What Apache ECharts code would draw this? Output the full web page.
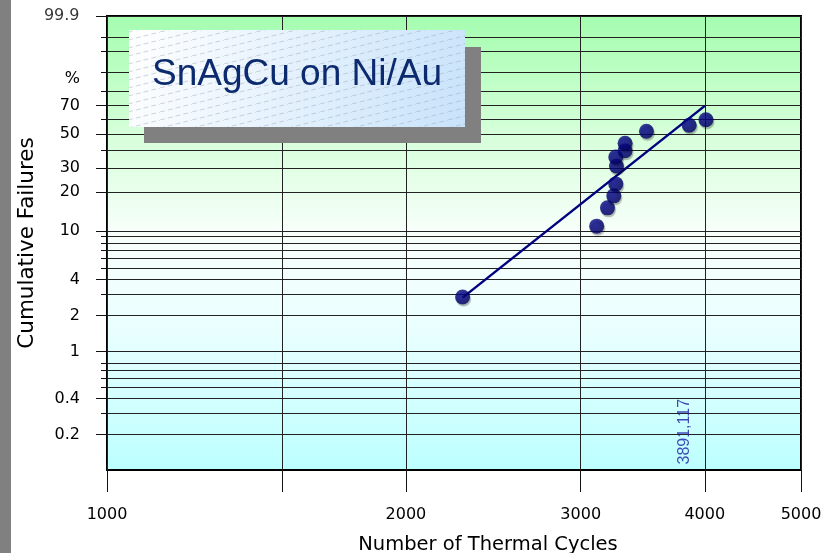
<!DOCTYPE html>
<html><head><meta charset="utf-8">
<script src="https://cdn.jsdelivr.net/npm/echarts@6/dist/echarts.min.js"></script>
<style>html,body{margin:0;padding:0;background:#fff}#c{width:821px;height:553px}</style>
</head><body><div id="c"></div>
<script>
// ---- data ----
const cycles  = [2281, 3113, 3192, 3239, 3254, 3259, 3254, 3325, 3325, 3494, 3858, 4011];
const failPct = [2.86, 10.9, 15.2, 18.8, 23.1, 31.1, 35.8, 39.4, 44.0, 51.9, 56.1, 60.0];
const fitCycles = [2281, 4000];
const fitPct = [2.83, 69.9];
const etaCycles = 3891;
const etaLabel = '3891,117';
const xTicks = [1000, 1500, 2000, 3000, 4000, 5000];
const xLabels = [1000, 2000, 3000, 4000, 5000];
const yGrid = [99.9, 99, 97, 90, 80, 70, 60, 50, 40, 30, 20, 10, 9, 8, 7, 6, 5, 4, 3, 2, 1, 0.8, 0.7, 0.6, 0.5, 0.4, 0.3, 0.2];
const yMajor = [99.9, 70, 50, 30, 20, 10, 4, 2, 1, 0.4, 0.2];
const yTopLabel = 99.9;
const yLabelVals = [90, 70, 50, 30, 20, 10, 4, 2, 1, 0.4, 0.2];
const yLabelText = ['%', '70', '50', '30', '20', '10', '4', '2', '1', '0.4', '0.2'];
const xMinCycles = 1000, xMaxCycles = 5000;
const yMinPct = 0.1, yMaxPct = 99.9;
const titleText = 'SnAgCu on Ni/Au';

// ---- scale transforms (Weibull probability paper) ----
const w = p => Math.log(-Math.log(1 - p / 100));
const lx = v => Math.log10(v);
const yTop = w(yMaxPct), yBot = w(yMinPct);
const yLabW = yLabelVals.map(w);

const FONT = "'DejaVu Sans', sans-serif";

// hatch pattern for title box
const pc = document.createElement('canvas'); pc.width = 32; pc.height = 8;
const g2 = pc.getContext('2d');
g2.strokeStyle = 'rgba(150,160,175,0.45)'; g2.lineWidth = 1; g2.setLineDash([5, 3]);
g2.beginPath(); g2.moveTo(0, 8); g2.lineTo(32, 0); g2.stroke();

const chart = echarts.init(document.getElementById('c'), null, {renderer: 'canvas'});
chart.setOption({
  animation: false,
  grid: {
    left: 107, top: 16, width: 694, height: 454,
    outerBoundsMode: 'none', containLabel: false,
    show: true, borderColor: '#000', borderWidth: 2,
    backgroundColor: {type: 'linear', x: 0, y: 0, x2: 0, y2: 1, colorStops: [
      {offset: 0, color: '#a4fdaf'}, {offset: 0.25, color: '#d4ffd8'}, {offset: 0.48, color: '#f8fffb'},
      {offset: 0.7, color: '#e8ffff'}, {offset: 1, color: '#bcffff'}]}
  },
  xAxis: {
    type: 'value', min: lx(xMinCycles), max: lx(xMaxCycles),
    axisLine: {show: false, onZero: false},
    axisTick: {show: true, length: 22, customValues: xTicks.map(lx), lineStyle: {color: '#111', width: 1}},
    splitLine: {show: true, lineStyle: {color: '#222', width: 1}},
    axisLabel: {customValues: xLabels.map(lx), formatter: v => String(Math.round(Math.pow(10, v))),
      margin: 37, color: '#000', fontSize: 16, fontFamily: FONT},
    name: 'Number of Thermal Cycles', nameLocation: 'middle', nameGap: 65, nameMoveOverlap: false,
    nameTextStyle: {fontSize: 19.5, fontFamily: FONT, color: '#000', padding: [0, 0, 0, 68]}
  },
  yAxis: [{
    type: 'value', min: yBot, max: yTop, position: 'left',
    axisLine: {show: false, onZero: false},
    axisTick: {show: true, length: 6, customValues: yGrid.map(w), lineStyle: {color: '#111', width: 1}},
    splitLine: {show: true, lineStyle: {color: '#222', width: 1}},
    axisLabel: {show: false}
  }, {
    type: 'value', min: yBot, max: yTop, position: 'left',
    axisLine: {show: false, onZero: false},
    axisTick: {show: true, length: 11, customValues: yMajor.map(w), lineStyle: {color: '#111', width: 1}},
    splitLine: {show: false},
    axisLabel: {customValues: yLabW, margin: 27, align: 'right', color: '#000', fontSize: 16, fontFamily: FONT,
      formatter: v => {
        let best = 0;
        for (let i = 0; i < yLabW.length; i++) if (Math.abs(yLabW[i] - v) < Math.abs(yLabW[best] - v)) best = i;
        const t = yLabelText[best];
        return t === '%' ? '{p|%}' : t;
      },
      rich: {p: {fontSize: 16, fontFamily: FONT, color: '#000', padding: [12, 0, 0, 0]}}
    },
    name: 'Cumulative Failures', nameLocation: 'middle', nameGap: 69, nameMoveOverlap: false,
    nameTextStyle: {fontSize: 21.5, fontFamily: FONT, color: '#000'}
  }],
  series: [{
    type: 'line', silent: true, symbol: 'none',
    data: fitCycles.map((c, i) => [lx(c), w(fitPct[i])]),
    lineStyle: {color: '#000080', width: 2.5}, z: 3
  }, {
    type: 'scatter', silent: true, symbolSize: 15,
    data: cycles.map((c, i) => [lx(c), w(failPct[i])]),
    itemStyle: {color: {type: 'radial', x: 0.4, y: 0.4, r: 0.6, colorStops: [{offset: 0, color: '#0a0a96'}, {offset: 1, color: '#000064'}]},
      shadowColor: 'rgba(0,0,0,0.35)', shadowOffsetX: 1, shadowOffsetY: 2, shadowBlur: 1},
    z: 4
  }, {
    type: 'scatter', silent: true, symbolSize: 1,
    data: [[lx(etaCycles), yBot]],
    itemStyle: {color: 'rgba(0,0,0,0)'},
    label: {show: true, formatter: etaLabel, rotate: 90, position: [-8, -5], align: 'left', verticalAlign: 'middle',
      color: '#1c1ca0', fontSize: 16, fontFamily: "'Liberation Sans', Arial, sans-serif"},
    z: 4
  }, {
    // top-of-axis label "99.9", anchored at the axis through the scales
    type: 'scatter', silent: true, symbolSize: 1, clip: false,
    data: [[lx(xMinCycles), w(yTopLabel)]],
    itemStyle: {color: 'rgba(0,0,0,0)'},
    label: {show: true, formatter: String(yTopLabel), position: 'left', distance: 27,
      color: '#000', fontSize: 16, fontFamily: FONT},
    z: 4
  }],
  graphic: [
    {type: 'rect', z: 100, shape: {x: 0, y: 0, width: 11, height: 553}, style: {fill: '#808080'}},
    {type: 'rect', z: 100, shape: {x: 144, y: 47, width: 337, height: 96}, style: {fill: '#808080'}},
    {type: 'rect', z: 101, shape: {x: 129, y: 30, width: 336, height: 97},
      style: {fill: {type: 'linear', x: 0, y: 0, x2: 1, y2: 1, colorStops: [{offset: 0, color: '#ffffff'}, {offset: 1, color: '#c8e3fb'}]}}},
    {type: 'rect', z: 102, shape: {x: 129, y: 30, width: 336, height: 97},
      style: {fill: {image: pc, repeat: 'repeat'}}},
    {type: 'text', z: 103, x: 297, y: 75,
      style: {text: titleText, fill: '#0c2a6e', font: "37px 'Liberation Sans', Arial, sans-serif",
        align: 'center', verticalAlign: 'middle', textAlign: 'center', textVerticalAlign: 'middle'}}
  ]
});
</script></body></html>
